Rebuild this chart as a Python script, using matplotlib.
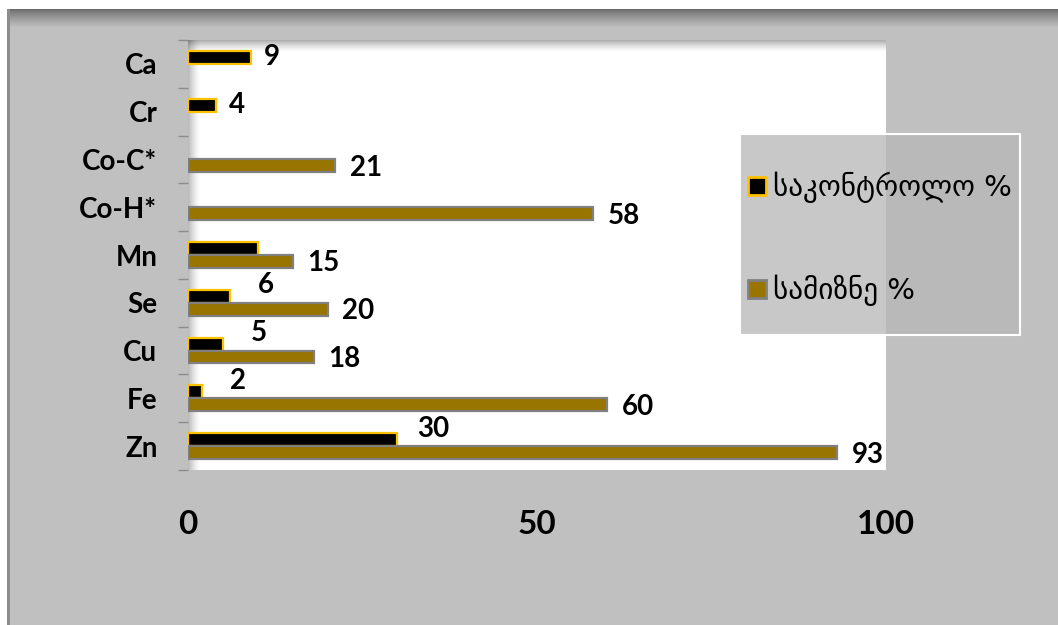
import matplotlib
matplotlib.use('Agg')
import matplotlib.pyplot as plt
from matplotlib.patches import Patch, Rectangle
import numpy as np

# data
elements = ['Zn', 'Fe', 'Cu', 'Se', 'Mn', 'Co-H*', 'Co-C*', 'Cr', 'Ca']
control = [30, 2, 5, 6, 10, None, None, 4, 9]
target = [93, 60, 18, 20, 15, 58, 21, None, None]
control_labels = ['30', '2', '5', '6', '', '', '', '4', '9']
series_names = ['საკონტროლო %', 'სამიზნე %']
xticks = [0, 50, 100]

plt.rcParams['font.family'] = ['Lato', 'DejaVu Sans']
plt.rcParams['font.weight'] = 'bold'

W, H = 1058, 625
fig = plt.figure(figsize=(W / 100, H / 100), dpi=100, facecolor='#c0c0c0')


def px_rect(x, y, w, h, z=-1, **kw):
    # rectangle in pixel coords, y measured from the top
    r = Rectangle((x / W, 1 - (y + h) / H), w / W, h / H,
                  transform=fig.transFigure, lw=0, zorder=z, **kw)
    fig.add_artist(r)
    return r


# outer frame: white margin, dark top edge fading into grey
px_rect(0, 0, W, 9, color='white')
px_rect(0, 0, 7, H, color='white')
for i in range(19):
    t = i / 18
    g = 0.42 + (0.753 - 0.42) * t ** 0.8
    px_rect(7, 9 + i, W - 7, 1, color=(g, g, g))
px_rect(7, 9, 3, H, color='#8c8c8c')

# plot area (white with inner shadow on top and left)
px0, py0, px1, py1 = 188, 40, 886, 470
px_rect(px0, py0, px1 - px0, py1 - py0, z=-3, color='white')
for i in range(12):
    a = 0.45 * (1 - i / 12) ** 1.5
    px_rect(px0, py0 + i, px1 - px0, 1, z=-2, color='black', alpha=a * 0.7)
    px_rect(px0 + i, py0, 1, py1 - py0, z=-2, color='black', alpha=a * 0.6)

ax = fig.add_axes([px0 / W, 1 - py1 / H, (px1 - px0) / W, (py1 - py0) / H])
ax.set_facecolor('none')

y = np.arange(len(elements))
h = 0.27
ci = [i for i, v in enumerate(control) if v is not None]
ti = [i for i, v in enumerate(target) if v is not None]

ax.barh(y[ci] + h / 2, [control[i] for i in ci], height=h,
        color='black', edgecolor='#ffc000', linewidth=1.6)
ax.barh(y[ti] - h / 2, [target[i] for i in ti], height=h,
        color='#987400', edgecolor='#808080', linewidth=1.6)

lbl = dict(family='Lato', fontweight='bold', fontsize=20,
           ha='center', va='center', textcoords='offset points')
px2pt = 0.72
for i in ci:
    if not control_labels[i]:
        continue
    if target[i] is not None:
        off = (36 * px2pt, 11 * px2pt)
    else:
        off = (21 * px2pt, 0)
    ax.annotate(control_labels[i], (control[i], y[i] + h / 2), xytext=off, **lbl)
for i in ti:
    ax.annotate(str(target[i]), (target[i], y[i] - h / 2),
                xytext=(31 * px2pt, -2 * px2pt), **lbl)

ax.set_xlim(0, 100)
ax.set_ylim(-0.5, len(elements) - 0.5)
ax.set_xticks(xticks)
ax.set_yticks(y, elements)
ax.set_yticks(np.arange(-0.5, len(elements)), minor=True)
ax.tick_params(axis='x', length=0, pad=29)
ax.tick_params(axis='y', which='major', length=0, pad=22)
ax.tick_params(axis='y', which='minor', length=7, width=1, color='#8c8c8c')
for lab in ax.get_xticklabels():
    lab.set_fontproperties({'family': 'Lato', 'weight': 'bold', 'size': 24})
for lab in ax.get_yticklabels():
    lab.set_fontproperties({'family': 'Lato', 'weight': 'bold', 'size': 20})
for s in ax.spines.values():
    s.set_visible(False)

# legend box
px_rect(740, 134, 280, 201, z=1, facecolor='#b7b7b7', alpha=0.76)
fig.add_artist(Rectangle((740 / W, 1 - 335 / H), 280 / W, 201 / H,
                         transform=fig.transFigure, fill=False,
                         edgecolor='white', lw=1.5, zorder=2))
handles = [Patch(facecolor='black', edgecolor='#ffc000', lw=2),
           Patch(facecolor='#987400', edgecolor='#808080', lw=2)]
fig.legend(handles, series_names, loc='center left',
           bbox_to_anchor=(748 / W, 1 - 239 / H), frameon=False,
           prop={'family': 'DejaVu Sans', 'weight': 'normal', 'size': 21},
           handlelength=0.6, handleheight=0.6, handletextpad=0.25,
           labelspacing=2.45, borderpad=0, borderaxespad=0)

fig.savefig('out.png', dpi=100, facecolor=fig.get_facecolor())
